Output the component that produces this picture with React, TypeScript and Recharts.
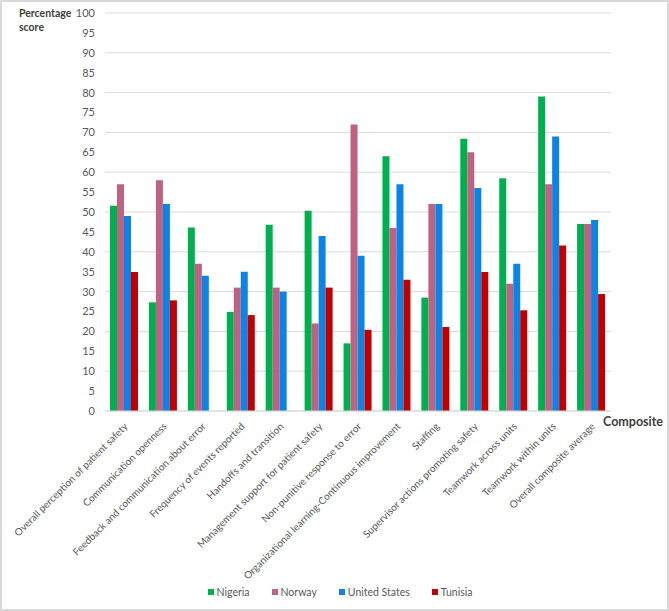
import React from "react";
import { BarChart, Bar, XAxis, YAxis, CartesianGrid, Legend, Label } from "recharts";

const composites = [
  "Overall perception of patient safety",
  "Communication openness",
  "Feedback and communication about error",
  "Frequency of events reported",
  "Handoffs and transition",
  "Management support for patient safety",
  "Non-punitive response to error",
  "Organizational learning-Continuous improvement",
  "Staffing",
  "Supervisor actions promoting safety",
  "Teamwork across units",
  "Teamwork within units",
  "Overall composite average",
];

const nigeria = [51.6, 27.3, 46.1, 24.9, 46.8, 50.3, 17.0, 64.0, 28.5, 68.4, 58.5, 79.0, 47.0];
const norway = [57, 58, 37, 31, 31, 22, 72, 46, 52, 65, 32, 57, 47];
const unitedStates = [49, 52, 34, 35, 30, 44, 39, 57, 52, 56, 37, 69, 48];
const tunisia = [34.9, 27.8, null, 24.1, null, 31.0, 20.4, 33.0, 21.1, 34.9, 25.3, 41.6, 29.4];

const yTicks = [0, 5, 10, 15, 20, 25, 30, 35, 40, 45, 50, 55, 60, 65, 70, 75, 80, 85, 90, 95, 100];

const series = [
  { key: "Nigeria", values: nigeria, color: "#00b050" },
  { key: "Norway", values: norway, color: "#bf6282" },
  { key: "United States", values: unitedStates, color: "#0b84e6" },
  { key: "Tunisia", values: tunisia, color: "#c00000" },
];

const data = composites.map((name, i) => {
  const row: Record<string, string | number | null> = { name };
  series.forEach((s) => (row[s.key] = s.values[i]));
  return row;
});

const FONT = "Lato, sans-serif";
const TEXT = "#595959";

function XTick({ x, y, payload }: any) {
  return (
    <text
      x={x + 4}
      y={y + 8}
      transform={`rotate(-45, ${x + 4}, ${y + 8})`}
      textAnchor="end"
      fontSize={10}
      fontFamily={FONT}
      fill={TEXT}
    >
      {payload.value}
    </text>
  );
}

function LegendBox() {
  return (
    <div
      style={{
        display: "flex",
        justifyContent: "center",
        fontFamily: FONT,
        fontSize: 10.5,
        lineHeight: "14px",
        color: TEXT,
        paddingLeft: 69,
      }}
    >
      {series.map((s, i) => (
        <div key={s.key} style={{ display: "flex", alignItems: "center", marginRight: i < series.length - 1 ? 22 : 0 }}>
          <span style={{ width: 6, height: 6, background: s.color, display: "inline-block", marginRight: 3 }} />
          {s.key}
        </div>
      ))}
    </div>
  );
}

export default function App() {
  return (
    <div
      style={{
        position: "absolute",
        top: 0,
        left: 0,
        width: 669,
        height: 611,
        boxSizing: "border-box",
        border: "2px solid #d9d9d9",
        background: "#fff",
      }}
    >
      <div style={{ position: "absolute", top: -2, left: -2 }}>
        <BarChart
          width={669}
          height={611}
          data={data}
          margin={{ top: 13, right: 58, left: 0, bottom: 12 }}
          barSize={7}
          barGap={0}
        >
          <CartesianGrid vertical={false} stroke="#d9d9d9" />
          <XAxis
            dataKey="name"
            interval={0}
            height={174}
            tick={<XTick />}
            tickLine={false}
            axisLine={{ stroke: "#d9d9d9" }}
          >
            <Label
              content={({ viewBox }: any) => (
                <text
                  x={viewBox.x + viewBox.width - 8}
                  y={viewBox.y + 15}
                  fontSize={12.5}
                  fontWeight="bold"
                  fontFamily={FONT}
                  fill="#404040"
                >
                  Composite
                </text>
              )}
            />
          </XAxis>
          <YAxis
            domain={[0, 100]}
            ticks={yTicks}
            width={105}
            tickLine={false}
            axisLine={false}
            tickMargin={4}
            tick={{ fontSize: 11, fontFamily: FONT, fill: TEXT }}
          >
            <Label
              content={({ viewBox }: any) => (
                <text x={19} y={viewBox.y + 4} fontSize={10.5} fontWeight="bold" fontFamily={FONT} fill="#404040">
                  <tspan x={19}>Percentage</tspan>
                  <tspan x={19} dy={14}>
                    score
                  </tspan>
                </text>
              )}
            />
          </YAxis>
          <Legend verticalAlign="bottom" content={<LegendBox />} />
          {series.map((s) => (
            <Bar key={s.key} dataKey={s.key} fill={s.color} isAnimationActive={false} />
          ))}
        </BarChart>
      </div>
    </div>
  );
}
